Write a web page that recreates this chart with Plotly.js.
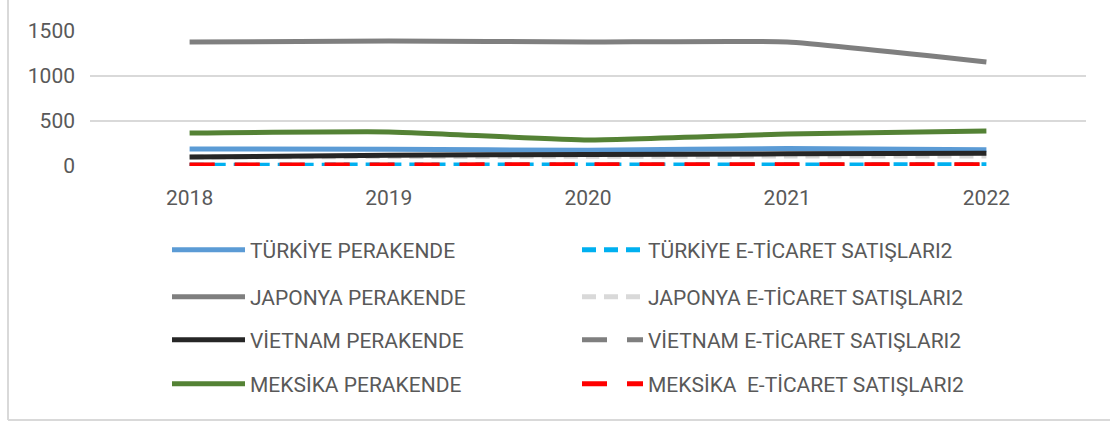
<!DOCTYPE html>
<html>
<head>
<meta charset="utf-8">
<script src="https://cdn.plot.ly/plotly-3.0.1.min.js"></script>
<style>
html,body{margin:0;padding:0;background:#fff;}
#chart{width:1110px;height:424px;}
</style>
</head>
<body>
<div id="chart"></div>
<script>
// ---- data ----
const years = ['2018', '2019', '2020', '2021', '2022'];
const turkiyePerakende = [190, 185, 175, 195, 180];
const turkiyeEticaret  = [9, 10, 11, 12, 13];
const japonyaPerakende = [1378, 1389, 1378, 1378, 1156];
const japonyaEticaret  = [100, 105, 108, 110, 110];
const vietnamPerakende = [100, 120, 128, 135, 142];
const vietnamEticaret  = [7, 8, 9, 10, 11];
const meksikaPerakende = [367, 378, 289, 356, 389];
const meksikaEticaret  = [10, 12, 13, 14, 15];
const seriesNames = [
  'TÜRKİYE PERAKENDE', 'TÜRKİYE E-TİCARET SATIŞLARI2',
  'JAPONYA PERAKENDE', 'JAPONYA E-TİCARET SATIŞLARI2',
  'VİETNAM PERAKENDE', 'VİETNAM E-TİCARET SATIŞLARI2',
  'MEKSİKA PERAKENDE', 'MEKSİKA  E-TİCARET SATIŞLARI2'
];
const yTickVals = [0, 500, 1000, 1500];

// ---- styles ----
const seriesValues = [turkiyePerakende, turkiyeEticaret, japonyaPerakende, japonyaEticaret,
                      vietnamPerakende, vietnamEticaret, meksikaPerakende, meksikaEticaret];
const colors = ['#5b9bd5', '#00b0f0', '#7f7f7f', '#d9d9d9', '#262626', '#7f7f7f', '#548235', '#ff0000'];
const dashes = ['solid', '14px,8px', 'solid', '14px,8px', 'solid', '25px,20px', 'solid', '25px,20px'];

const W = 1110, H = 424;
const M = {l: 90, r: 24, t: 31, b: 258};
const pw = W - M.l - M.r, ph = H - M.t - M.b;
const px2x = p => (p - M.l) / pw;
const py2y = p => (H - M.b - p) / ph;

const rowY = [250, 297, 340, 384];
const colX = [167, 577];
const itemW = [73, 61];

const textFont = {family: 'Roboto, Arial, sans-serif', size: 21, color: '#595959'};

const traces = seriesValues.map((vals, i) => ({
  type: 'scatter', mode: 'lines',
  x: years, y: vals, name: seriesNames[i],
  line: {color: colors[i], width: 5, dash: dashes[i], shape: 'spline', smoothing: 0.4},
  legend: i === 0 ? 'legend' : 'legend' + (i + 1),
  hoverinfo: 'x+y+name'
}));

const layout = {
  width: W, height: H,
  margin: M,
  paper_bgcolor: '#ffffff', plot_bgcolor: '#ffffff',
  showlegend: true,
  xaxis: {
    type: 'category', range: [-0.5, 4.5], showgrid: false, zeroline: false, showline: false,
    ticks: '', ticklabelstandoff: 17, tickfont: textFont, fixedrange: true
  },
  yaxis: {
    range: [0, 1500], tickvals: yTickVals, showgrid: true, gridcolor: '#d9d9d9', gridwidth: 2,
    zeroline: false, showline: false, ticks: '', ticklabelstandoff: 14, tickfont: textFont, fixedrange: true
  },
  shapes: [
    {type: 'line', xref: 'paper', yref: 'paper', x0: px2x(8), x1: px2x(8), y0: py2y(0), y1: py2y(420),
     line: {color: '#d9d9d9', width: 2}},
    {type: 'line', xref: 'paper', yref: 'paper', x0: px2x(8), x1: px2x(1110), y0: py2y(420), y1: py2y(420),
     line: {color: '#d9d9d9', width: 2}}
  ]
};

for (let i = 0; i < 8; i++) {
  const key = i === 0 ? 'legend' : 'legend' + (i + 1);
  const col = i % 2, row = Math.floor(i / 2);
  layout[key] = {
    x: px2x(colX[col]), y: py2y(rowY[row]), xanchor: 'left', yanchor: 'middle',
    bgcolor: 'rgba(0,0,0,0)', borderwidth: 0, font: textFont, itemwidth: itemW[col],
    itemclick: false, itemdoubleclick: false
  };
}

Plotly.newPlot('chart', traces, layout, {displayModeBar: false, staticPlot: true});
</script>
</body>
</html>
